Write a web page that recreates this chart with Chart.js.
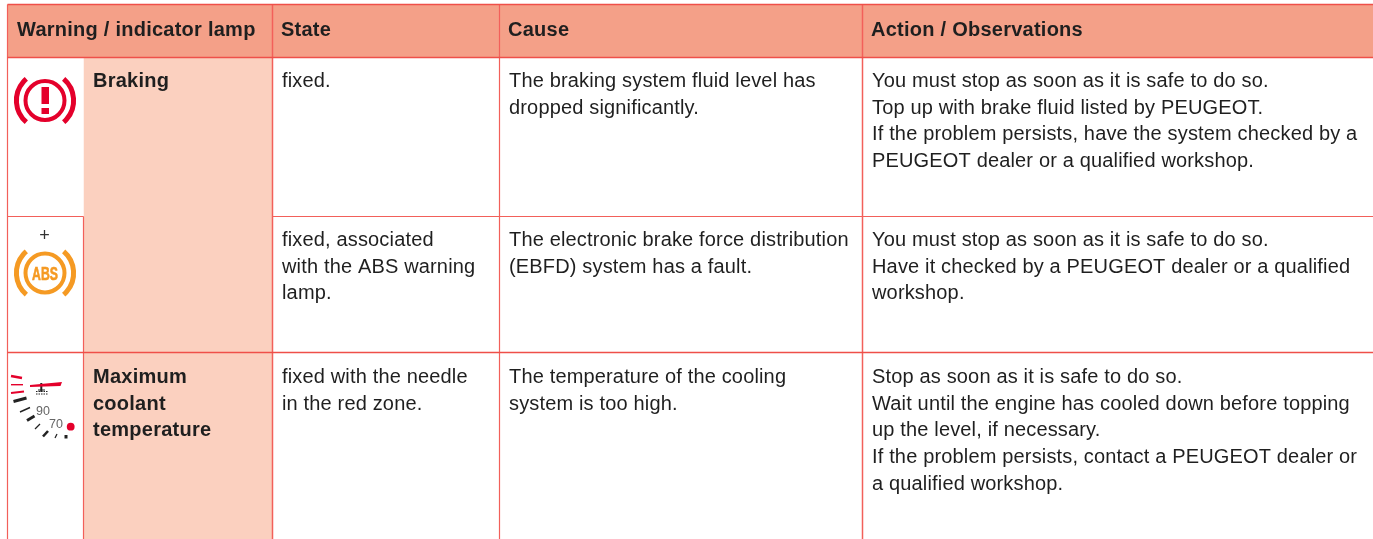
<!DOCTYPE html>
<html>
<head>
<meta charset="utf-8">
<title>Warning lamps</title>
<style>
  html, body { margin: 0; padding: 0; background: #fff; overflow: hidden; }
  canvas { display: block; }
</style>
<script src="https://cdn.jsdelivr.net/npm/chart.js@4/dist/chart.umd.min.js"></script>
</head>
<body>
<canvas id="lampTable" width="1373" height="539"></canvas>
<script>
// table text
const headers = ['Warning / indicator lamp', 'State', 'Cause', 'Action / Observations'];
const lampNames = [['Braking'], [], ['Maximum', 'coolant', 'temperature']];
const states = [
  ['fixed.'],
  ['fixed, associated', 'with the ABS warning', 'lamp.'],
  ['fixed with the needle', 'in the red zone.']
];
const causes = [
  ['The braking system fluid level has', 'dropped significantly.'],
  ['The electronic brake force distribution', '(EBFD) system has a fault.'],
  ['The temperature of the cooling', 'system is too high.']
];
const actions = [
  ['You must stop as soon as it is safe to do so.', 'Top up with brake fluid listed by PEUGEOT.',
   'If the problem persists, have the system checked by a', 'PEUGEOT dealer or a qualified workshop.'],
  ['You must stop as soon as it is safe to do so.', 'Have it checked by a PEUGEOT dealer or a qualified', 'workshop.'],
  ['Stop as soon as it is safe to do so.', 'Wait until the engine has cooled down before topping',
   'up the level, if necessary.', 'If the problem persists, contact a PEUGEOT dealer or', 'a qualified workshop.']
];

// grid of the table, in page units
const columnEdges = [7.5, 83.5, 272.5, 499.5, 862.5, 1373];
const rowEdges = [4.5, 57.5, 216.5, 352.5, 539];
const firstBaselines = [87, 246, 383];
const lineGap = 26.7;

const lineColor = '#ef4f49';
const thinColor = '#f2605a';
const headerFill = '#f4a088';
const sideFill = '#fbd0bf';
const textColor = '#1f1f1f';
const fontName = '"Liberation Sans", Arial, sans-serif';

function seg(x1, y1, x2, y2, color, width) {
  return {
    type: 'scatter', showLine: true, pointRadius: 0, fill: false,
    borderColor: color, borderWidth: width,
    data: [{x: x1, y: y1}, {x: x2, y: y2}]
  };
}
function box(x1, y1, x2, y2, color) {
  return {
    type: 'scatter', showLine: true, pointRadius: 0, borderWidth: 0,
    borderColor: color, backgroundColor: color, fill: {target: {value: y1}},
    data: [{x: x1, y: y2}, {x: x2, y: y2}]
  };
}

const c = columnEdges, r = rowEdges;
const datasets = [
  // rules first, chart.js paints the first dataset last
  seg(c[0], r[0], c[5], r[0], lineColor, 1.5),
  seg(c[0], r[1], c[5], r[1], lineColor, 1.5),
  seg(c[0], r[2], c[1], r[2], thinColor, 1.2),
  seg(c[2], r[2], c[5], r[2], thinColor, 1.2),
  seg(c[0], r[3], c[5], r[3], lineColor, 1.5),
  seg(c[0], r[0], c[0], r[4], thinColor, 1.2),
  seg(c[1], r[2], c[1], r[4], thinColor, 1.2),
  seg(c[2], r[0], c[2], r[4], thinColor, 1.5),
  seg(c[3], r[0], c[3], r[4], thinColor, 1.2),
  seg(c[4], r[0], c[4], r[4], thinColor, 1.5),
  box(c[0], r[0], c[5], r[1], headerFill),
  box(c[1], r[1], c[2], r[4], sideFill)
];

function drawLines(ctx, sx, sy, lines, x, baseline) {
  lines.forEach((t, i) => ctx.fillText(t, sx.getPixelForValue(x), sy.getPixelForValue(baseline + i * lineGap)));
}

function ringIcon(ctx, sx, sy, cx, cy, color) {
  const px = sx.getPixelForValue(cx), py = sy.getPixelForValue(cy);
  ctx.strokeStyle = color;
  ctx.lineWidth = 4;
  ctx.beginPath(); ctx.arc(px, py, 19.5, 0, Math.PI * 2); ctx.stroke();
  ctx.lineWidth = 5;
  const a = 0.86;
  ctx.beginPath(); ctx.arc(px, py, 28.6, -a, a); ctx.stroke();
  ctx.beginPath(); ctx.arc(px, py, 28.6, Math.PI - a, Math.PI + a); ctx.stroke();
}

function gaugeIcon(ctx, sx, sy) {
  const X = v => sx.getPixelForValue(v), Y = v => sy.getPixelForValue(v);
  const tick = (x1, y1, x2, y2, w, color) => {
    ctx.strokeStyle = color; ctx.lineWidth = w;
    ctx.beginPath(); ctx.moveTo(X(x1), Y(y1)); ctx.lineTo(X(x2), Y(y2)); ctx.stroke();
  };
  const red = '#e4002b', dark = '#222';
  tick(11, 376, 22, 378, 2.6, red);
  tick(11, 384.7, 23, 384.7, 1.4, red);
  tick(11, 393, 24, 391.5, 1.8, red);
  tick(13.5, 401.5, 26.5, 398, 3, dark);
  tick(20, 412, 30, 407.5, 1.4, dark);
  tick(27, 420.5, 34.5, 416, 2.8, dark);
  tick(35, 429, 40, 424, 1.2, dark);
  tick(43, 436.5, 48, 431, 2.6, dark);
  tick(55, 438, 57, 434, 1.2, dark);
  tick(66, 435, 66, 438.5, 3, dark);
  // little thermometer under the needle
  tick(41.3, 383, 41.3, 392, 2, dark);
  tick(38, 390, 45, 390, 1, dark);
  ctx.setLineDash([1.5, 1]);
  tick(36, 391.5, 47.5, 391.5, 1, dark);
  tick(36, 394, 47.5, 394, 1, dark);
  ctx.setLineDash([]);
  ctx.fillStyle = red;
  ctx.beginPath();
  ctx.moveTo(X(30), Y(385)); ctx.lineTo(X(62), Y(382)); ctx.lineTo(X(60.5), Y(386)); ctx.lineTo(X(30), Y(387));
  ctx.closePath(); ctx.fill();
  ctx.beginPath(); ctx.arc(X(70.7), Y(426.7), 3.9, 0, Math.PI * 2); ctx.fill();
  ctx.fillStyle = '#666';
  ctx.font = '12.5px ' + fontName;
  ctx.textAlign = 'center';
  ctx.fillText('90', X(43), Y(414.5));
  ctx.fillText('70', X(56), Y(427.5));
  ctx.textAlign = 'left';
}

const overlayPlugin = {
  id: 'tableText',
  afterDatasetsDraw(chart) {
    const ctx = chart.ctx, sx = chart.scales.x, sy = chart.scales.y;
    ctx.save();
    ctx.textBaseline = 'alphabetic';
    ctx.textAlign = 'left';
    ctx.fillStyle = textColor;

    ctx.letterSpacing = '0.25px';
    ctx.font = 'bold 20px ' + fontName;
    [17, 281, 508, 871].forEach((x, i) => ctx.fillText(headers[i], sx.getPixelForValue(x), sy.getPixelForValue(36)));
    firstBaselines.forEach((b, i) => drawLines(ctx, sx, sy, lampNames[i], 93, b));

    ctx.letterSpacing = '0.16px';
    ctx.font = '20px ' + fontName;
    firstBaselines.forEach((b, i) => {
      drawLines(ctx, sx, sy, states[i], 282, b);
      drawLines(ctx, sx, sy, causes[i], 509, b);
      drawLines(ctx, sx, sy, actions[i], 872, b);
    });
    ctx.letterSpacing = '0px';

    // brake lamp
    ringIcon(ctx, sx, sy, 45, 100.5, '#e4002b');
    ctx.fillStyle = '#e4002b';
    ctx.fillRect(sx.getPixelForValue(41.5), sy.getPixelForValue(87), 7.5, 17);
    ctx.fillRect(sx.getPixelForValue(41.5), sy.getPixelForValue(108), 7.5, 6);

    // ABS lamp
    ctx.fillStyle = '#333';
    ctx.font = '18px ' + fontName;
    ctx.textAlign = 'center';
    ctx.fillText('+', sx.getPixelForValue(44.5), sy.getPixelForValue(241));
    ringIcon(ctx, sx, sy, 45, 273, '#f59a23');
    ctx.fillStyle = '#f59a23';
    ctx.strokeStyle = '#f59a23';
    ctx.lineWidth = 0.6;
    ctx.save();
    ctx.translate(sx.getPixelForValue(45), sy.getPixelForValue(279.5));
    ctx.scale(0.68, 1);
    ctx.font = 'bold 18px ' + fontName;
    ctx.fillText('ABS', 0, 0);
    ctx.strokeText('ABS', 0, 0);
    ctx.restore();
    ctx.textAlign = 'left';

    gaugeIcon(ctx, sx, sy);
    ctx.restore();
  }
};

new Chart(document.getElementById('lampTable').getContext('2d'), {
  type: 'scatter',
  data: { datasets: datasets },
  options: {
    responsive: false,
    animation: false,
    layout: { padding: 0 },
    plugins: { legend: { display: false }, tooltip: { enabled: false } },
    scales: {
      x: { type: 'linear', min: 0, max: 1373, display: false },
      y: { type: 'linear', min: 0, max: 539, reverse: true, display: false }
    }
  },
  plugins: [overlayPlugin]
});
</script>
</body>
</html>
